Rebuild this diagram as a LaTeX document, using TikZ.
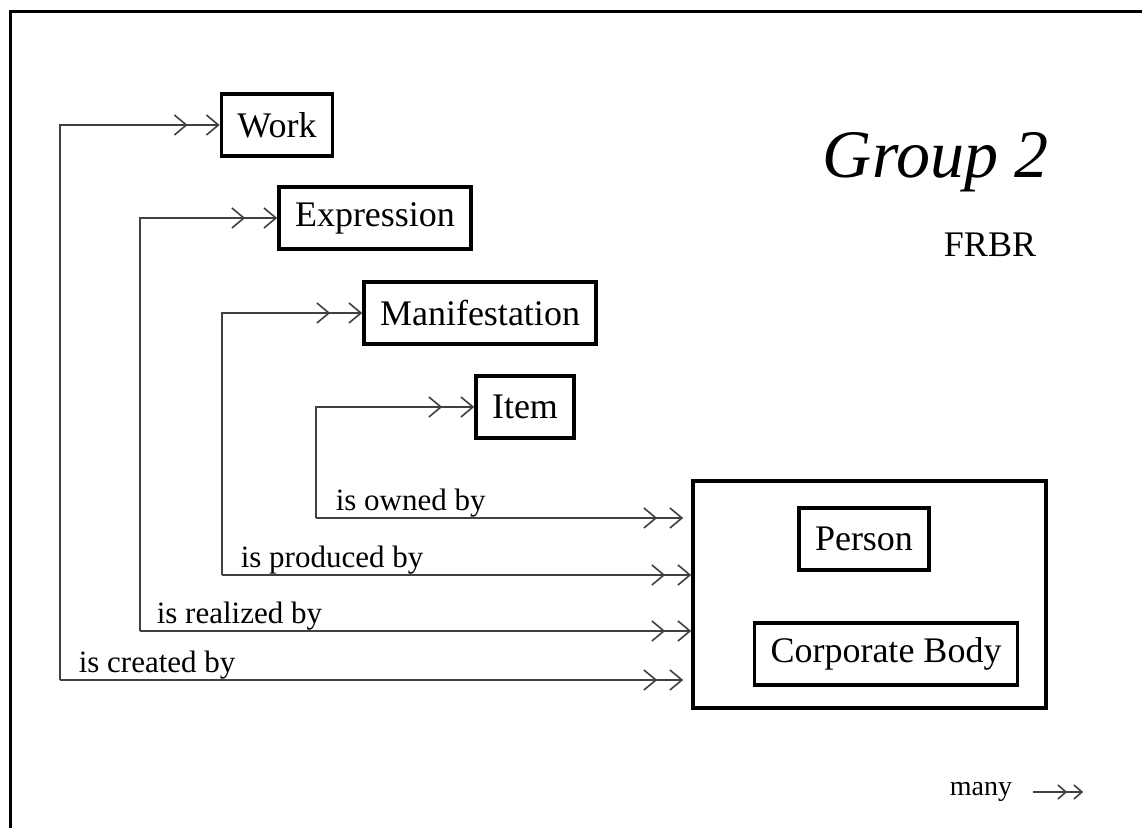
\documentclass[tikz,border=0pt]{standalone}
\usepackage{fontspec}
\setmainfont{Liberation Serif}
\usetikzlibrary{arrows.meta}
\tikzset{
  entity/.style={draw, line width=1.8pt, inner xsep=8pt, minimum height=31pt,
    font=\fontsize{18}{20}\selectfont},
  rel/.style={draw=black!75, line width=0.8pt},
  tomany/.style={-{Straight Barb[length=6pt,width=10pt,sep=9pt]Straight Barb[length=6pt,width=10pt]}},
  tomanyshort/.style={-{Straight Barb[length=6pt,width=10pt,sep=6pt]Straight Barb[length=6pt,width=10pt]}},
  tomanysmall/.style={-{Straight Barb[length=4pt,width=7pt,sep=3pt]Straight Barb[length=4pt,width=7pt]}},
  lbl/.style={font=\fontsize{15.5}{17}\selectfont, inner sep=0pt, anchor=base west},
}
\begin{document}
\begin{tikzpicture}[x=0.5pt,y=-0.5pt]
\useasboundingbox (0,0) rectangle (1142,828);
% frame
\draw[line width=1.5pt] (10,828) -- (10,12) -- (1142,12);
% group 1 entities
\node[entity] (work) at (277,125) {Work};
\node[entity] (expr) at (375,218) {Expression};
\node[entity] (manif) at (480,313) {Manifestation};
\node[entity] (item) at (525,407) {Item};
% group 2 entities
\node[draw, line width=1.8pt, minimum width=176.5pt, minimum height=113.5pt] (agent) at (869.5,594.5) {};
\node[entity] (person) at (864,539) {Person};
\node[entity] (corp) at (886,654) {Corporate Body};
\node[font=\fontsize{34}{38}\selectfont\itshape] (group) at (936,162) {Group 2};
\node[font=\fontsize{18}{20}\selectfont] (frbr) at (990,245) {FRBR};
% relationships
\coordinate (cwork) at (60,680);
\coordinate (cexpr) at (140,631);
\coordinate (cmanif) at (222,575);
\coordinate (citem) at (316,518);
\draw[rel,tomany] (cwork) |- (work.west);
\draw[rel,tomanyshort,shorten >=4pt] (cwork) -- node[lbl,pos=0,xshift=9pt,yshift=3.5pt] {is created by} (cwork -| agent.west);
\draw[rel,tomany] (cexpr) |- (expr.west);
\draw[rel,tomanyshort] (cexpr) -- node[lbl,pos=0,xshift=8pt,yshift=3.5pt] {is realized by} (cexpr -| agent.west);
\draw[rel,tomany] (cmanif) |- (manif.west);
\draw[rel,tomanyshort] (cmanif) -- node[lbl,pos=0,xshift=9pt,yshift=3.5pt] {is produced by} (cmanif -| agent.west);
\draw[rel,tomany] (citem) |- (item.west);
\draw[rel,tomanyshort,shorten >=4pt] (citem) -- node[lbl,pos=0,xshift=9.5pt,yshift=3.5pt] {is owned by} (citem -| agent.west);
% legend
\node[font=\fontsize{14}{16}\selectfont] (many) at (981,792) {many};
\draw[rel,tomanysmall] ([xshift=7pt]many.east) -- ++(50,0);
\end{tikzpicture}
\end{document}
